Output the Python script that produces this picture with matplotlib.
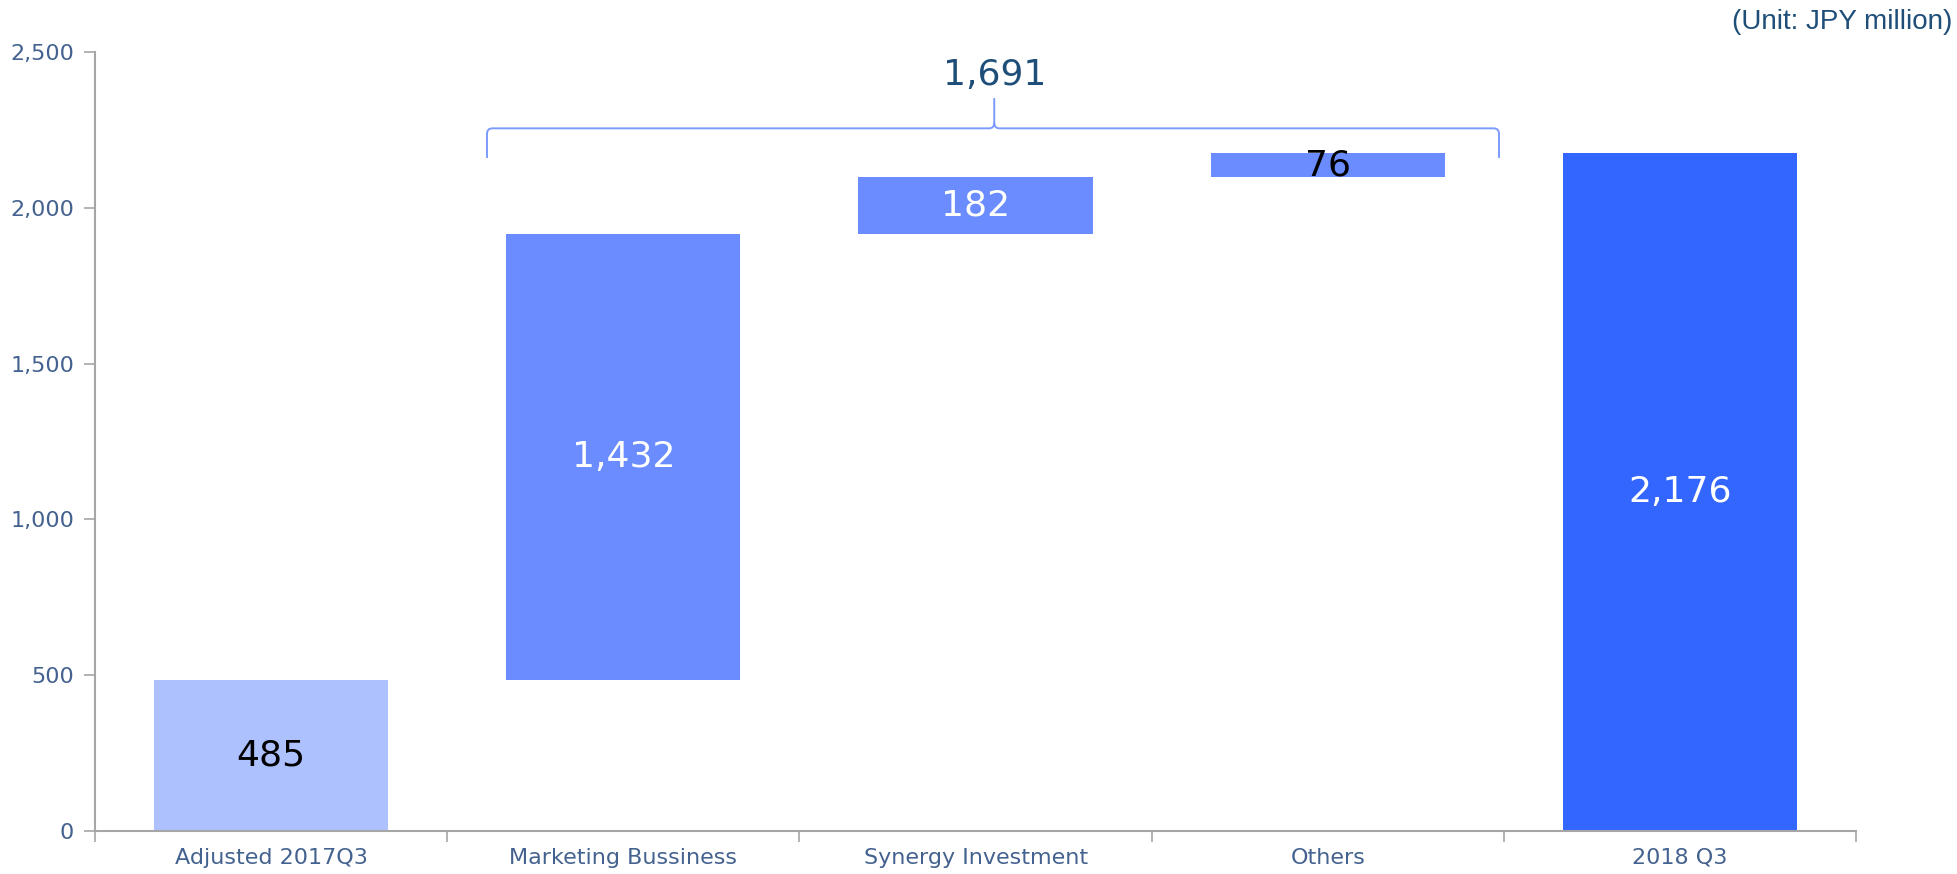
import matplotlib.pyplot as plt
from matplotlib.path import Path
from matplotlib.patches import PathPatch
from matplotlib.ticker import FuncFormatter, FixedLocator

# waterfall data (JPY million)
categories = ['Adjusted 2017Q3', 'Marketing Bussiness', 'Synergy Investment', 'Others', '2018 Q3']
start_value = 485
increments = [1432, 182, 76]
end_value = 2176
total_increase = 1691

bar_colors = ['#adc1ff', '#6a8cff', '#6a8cff', '#6a8cff', '#3366ff']
label_colors = ['black', 'white', 'white', 'black', 'white']
tick_color = '#44628f'

heights = [start_value] + increments + [end_value]
bottoms = [0]
running = start_value
for inc in increments:
    bottoms.append(running)
    running += inc
bottoms.append(0)

fig = plt.figure(figsize=(19.58, 8.74), dpi=100)
ax = fig.add_axes([0.0485, 0.0492, 0.8995, 0.8913])

x = list(range(len(categories)))
ax.bar(x, heights, bottom=bottoms, width=0.665, color=bar_colors, zorder=2)

for xi, h, b, c in zip(x, heights, bottoms, label_colors):
    ax.text(xi, b + h / 2, f'{h:,}', ha='center', va='center',
            fontsize=26, color=c, family='DejaVu Sans', zorder=3)

ax.set_xlim(-0.5, 4.5)
ax.set_ylim(0, 2500)

# axes styling
for side in ['top', 'right']:
    ax.spines[side].set_visible(False)
for side in ['left', 'bottom']:
    ax.spines[side].set_color('#a6a6a6')
    ax.spines[side].set_linewidth(1.5)

ax.yaxis.set_major_locator(FixedLocator([0, 500, 1000, 1500, 2000, 2500]))
ax.yaxis.set_major_formatter(FuncFormatter(lambda v, p: f'{int(v):,}'))
ax.tick_params(axis='y', direction='out', length=8, width=1.2, color='#a6a6a6',
               labelsize=16, labelcolor=tick_color, pad=7)

ax.set_xticks(x)
ax.set_xticklabels(categories)
ax.tick_params(axis='x', which='major', length=0, labelsize=16, labelcolor=tick_color, pad=12)
ax.set_xticks([i - 0.5 for i in range(len(categories) + 1)], minor=True)
ax.tick_params(axis='x', which='minor', direction='out', length=8, width=1.2, color='#a6a6a6')

# brace over the increments
xl, xr, xc = 0.613, 3.486, 2.053
y_end, y_mid, y_tip = 2160, 2255, 2352
rx, ry = 0.015, 18
verts = [
    (xl, y_end), (xl, y_mid - ry), (xl, y_mid), (xl + rx, y_mid),
    (xc - rx, y_mid), (xc, y_mid), (xc, y_mid + ry), (xc, y_tip),
    (xc, y_mid + ry), (xc, y_mid), (xc + rx, y_mid),
    (xr - rx, y_mid), (xr, y_mid), (xr, y_mid - ry), (xr, y_end),
]
codes = [
    Path.MOVETO, Path.LINETO, Path.CURVE3, Path.CURVE3,
    Path.LINETO, Path.CURVE3, Path.CURVE3, Path.LINETO,
    Path.MOVETO, Path.CURVE3, Path.CURVE3,
    Path.LINETO, Path.CURVE3, Path.CURVE3, Path.LINETO,
]
brace = PathPatch(Path(verts, codes), facecolor='none', edgecolor='#7d9bff',
                  linewidth=1.4, clip_on=False, zorder=3)
ax.add_patch(brace)
ax.text(xc, 2427, f'{total_increase:,}', ha='center', va='center',
        fontsize=26, color='#1f4e79', family='DejaVu Sans')

fig.text(0.997, 0.975, '(Unit: JPY million)', ha='right', va='center',
         fontsize=20, color='#1f4e79', family='Liberation Sans')

fig.savefig('out.png', dpi=100)
